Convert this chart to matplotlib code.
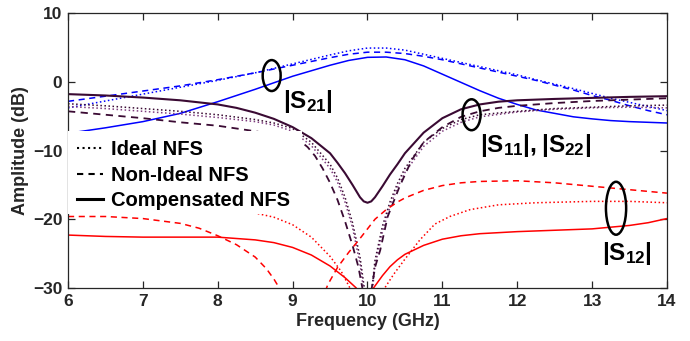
import matplotlib
matplotlib.use("Agg")
import matplotlib.pyplot as plt
from matplotlib.lines import Line2D
from matplotlib.patches import Ellipse, Rectangle

plt.rcParams['font.family'] = ['Liberation Sans', 'DejaVu Sans']
plt.rcParams['font.weight'] = 'bold'
plt.rcParams['mathtext.fontset'] = 'custom'
plt.rcParams['mathtext.rm'] = 'Liberation Sans:bold'
plt.rcParams['mathtext.bf'] = 'Liberation Sans:bold'

# |S21| transmission
f_s21 = [6.0, 6.5, 7.0, 7.5, 8.0, 8.5, 9.0, 9.5, 9.75, 10.0, 10.25, 10.5, 10.75,
         11.0, 11.25, 11.5, 11.75, 12.0, 12.25, 12.5, 12.75, 13.0, 13.25, 13.5, 13.75, 14.0]
s21_ideal = [-3.8, -2.8, -1.8, -0.8, 0.2, 1.3, 2.6, 3.9, 4.5, 4.9, 4.9, 4.6, 4.0,
             3.4, 2.8, 2.2, 1.6, 1.0, 0.3, -0.35, -1.0, -1.7, -2.4, -3.0, -3.6, -4.2]
s21_nonideal = [-2.85, -2.1, -1.35, -0.6, 0.3, 1.3, 2.4, 3.5, 4.0, 4.3, 4.3, 4.1, 3.7,
                3.2, 2.6, 2.0, 1.4, 0.8, 0.2, -0.5, -1.2, -2.0, -2.7, -3.5, -4.2, -4.8]
s21_comp = [-7.5, -6.7, -5.8, -4.6, -2.9, -1.1, 0.8, 2.4, 3.1, 3.55, 3.6, 3.2, 2.3,
            1.1, -0.1, -1.3, -2.4, -3.3, -4.1, -4.6, -5.1, -5.4, -5.65, -5.8, -5.9, -6.0]

# |S11|, |S22| reflection
f_s11_comp = [6.0, 6.5, 7.0, 7.5, 8.0, 8.25, 8.5, 8.75, 9.0, 9.25, 9.5, 9.6, 9.7, 9.8,
              9.9, 9.95, 10.0, 10.05, 10.1, 10.2, 10.3, 10.4, 10.5, 10.75, 11.0,
              11.25, 11.5, 11.75, 12.0, 12.5, 13.0, 13.5, 14.0]
s11_comp = [-1.8, -2.0, -2.3, -2.7, -3.3, -3.8, -4.5, -5.4, -6.6, -8.2, -10.4, -11.8, -13.3,
            -15.0, -16.8, -17.4, -17.6, -17.4, -16.8, -15.2, -13.5, -12.0, -10.4, -7.4,
            -5.3, -4.0, -3.3, -2.9, -2.7, -2.5, -2.35, -2.2, -2.1]

f_s11_nonideal = [6.0, 6.5, 7.0, 7.5, 8.0, 8.5, 8.75, 9.0, 9.1, 9.2, 9.3, 9.4, 9.5, 9.6,
                  9.7, 9.8, 9.88, 9.94, 10.0, 10.05, 10.1, 10.17, 10.27, 10.43, 10.59,
                  10.75, 11.0, 11.25, 11.5, 11.75, 12.0, 12.5, 13.0, 13.5, 14.0]
s11_nonideal = [-4.3, -4.8, -5.3, -5.9, -6.4, -7.2, -7.7, -8.2, -8.6, -9.5, -10.8, -12.6,
                -14.7, -17.2, -20.3, -23.8, -27.0, -30.5, -38.0, -30.5, -27.0, -24.5,
                -19.6, -15.2, -11.4, -8.8, -6.6, -5.1, -4.3, -3.8, -3.5, -3.1, -2.8,
                -2.6, -2.4]

f_ideal_refl = [6.0, 6.5, 7.0, 7.5, 8.0, 8.5, 8.75, 9.0, 9.25, 9.5, 9.6, 9.7, 9.8, 9.9,
                9.97, 10.01, 10.05, 10.1, 10.2, 10.3, 10.4, 10.5, 10.75, 11.0, 11.25,
                11.5, 12.0, 12.5, 13.0, 13.5, 14.0]
s11_ideal = [-3.2, -3.5, -3.9, -4.3, -4.8, -5.5, -6.0, -6.8, -8.8, -12.0, -14.0, -16.8,
             -20.5, -25.5, -31.0, -45.0, -31.0, -26.0, -21.0, -17.5, -14.8, -12.6, -8.8,
             -6.8, -5.5, -4.8, -4.3, -3.9, -3.7, -3.5, -3.4]
s22_ideal = [-3.6, -3.9, -4.3, -4.7, -5.2, -5.8, -6.3, -7.2, -9.3, -12.6, -14.6, -17.5,
             -21.2, -26.5, -32.0, -45.0, -32.0, -26.8, -21.8, -18.2, -15.4, -13.2, -9.4,
             -7.2, -5.9, -5.1, -4.4, -4.0, -3.8, -3.7, -3.8]

# |S12| isolation
f_s12_comp = [6.0, 6.5, 7.0, 7.5, 8.0, 8.5, 8.75, 9.0, 9.25, 9.5, 9.7, 9.85, 9.95, 10.08,
              10.2, 10.3, 10.4, 10.5, 10.75, 11.0, 11.25, 11.5, 12.0, 12.5, 13.0, 13.5,
              13.75, 14.0]
s12_comp = [-22.3, -22.5, -22.6, -22.6, -22.6, -23.0, -23.4, -24.1, -25.2, -26.8, -28.5,
            -30.0, -32.0, -30.0, -28.2, -26.9, -25.9, -25.1, -23.8, -22.9, -22.4, -22.1,
            -21.8, -21.6, -21.4, -20.9, -20.5, -19.9]

f_s12_nonideal = [6.0, 6.5, 7.0, 7.5, 7.75, 8.0, 8.25, 8.5, 8.65, 8.75, 8.85, 9.0, 9.2,
                  9.35, 9.47, 9.6, 9.75, 9.9, 10.0, 10.1, 10.25, 10.4, 10.5, 10.75, 11.0,
                  11.25, 11.5, 12.0, 12.5, 13.0, 13.5, 14.0]
s12_nonideal = [-19.6, -19.6, -19.9, -20.6, -21.3, -22.4, -23.7, -25.5, -27.2, -28.7,
                -30.5, -35.0, -38.0, -33.0, -29.5, -27.0, -24.8, -22.8, -21.4, -20.0,
                -18.6, -17.5, -16.9, -15.8, -15.1, -14.7, -14.5, -14.4, -14.7, -15.2,
                -15.7, -16.2]

f_s12_ideal = [6.0, 6.5, 7.0, 7.5, 8.0, 8.5, 8.75, 9.0, 9.25, 9.5, 9.65, 9.78, 9.9, 10.0,
               10.1, 10.23, 10.35, 10.5, 10.7, 10.9, 11.1, 11.37, 11.75, 12.25, 13.0,
               13.5, 14.0]
s12_ideal = [-17.5, -17.6, -17.8, -18.1, -18.5, -19.1, -19.7, -20.8, -22.6, -25.4, -27.6,
             -30.3, -34.0, -40.0, -35.0, -30.0, -28.0, -25.8, -23.0, -20.7, -19.6, -18.6,
             -17.9, -17.6, -17.4, -17.4, -17.6]

freq_ticks = [6, 7, 8, 9, 10, 11, 12, 13, 14]
amp_ticks = [-30, -20, -10, 0, 10]
legend_labels = ['Ideal NFS', 'Non-Ideal NFS', 'Compensated NFS']

blue = '#0000ff'
red = '#ff0000'
dark = '#3a0a33'
purple = '#7e3c7e'
ink = '#262626'

fig = plt.figure(figsize=(6.9, 3.41), dpi=100)
ax = fig.add_axes([0.0986, 0.1554, 0.868, 0.8065])

ax.plot(f_s21, s21_ideal, ':', color=blue, lw=1.1)
ax.plot(f_s21, s21_nonideal, '--', color=blue, lw=1.1, dashes=(4, 3))
ax.plot(f_s21, s21_comp, '-', color=blue, lw=1.1)

ax.plot(f_ideal_refl, s22_ideal, ':', color=purple, lw=1.1)
ax.plot(f_ideal_refl, s11_ideal, ':', color=dark, lw=1.1)
ax.plot(f_s11_nonideal, s11_nonideal, '--', color=dark, lw=1.3, dashes=(4, 3))
ax.plot(f_s11_comp, s11_comp, '-', color=dark, lw=1.5)

ax.plot(f_s12_ideal, s12_ideal, ':', color=red, lw=1.1)
ax.plot(f_s12_nonideal, s12_nonideal, '--', color=red, lw=1.1, dashes=(4, 3))
ax.plot(f_s12_comp, s12_comp, '-', color=red, lw=1.1)

ax.set_xlim(6, 14)
ax.set_ylim(-30, 10)
ax.set_xticks(freq_ticks)
ax.set_yticks(amp_ticks)
ax.tick_params(direction='in', top=True, right=True, length=5, width=0.9,
               labelsize=12.5, colors=ink, pad=4)
for lab in ax.get_xticklabels() + ax.get_yticklabels():
    lab.set_fontweight('bold')
for sp in ax.spines.values():
    sp.set_color(ink)
    sp.set_linewidth(0.9)
ax.set_xlabel('Frequency (GHz)', fontsize=13, fontweight='bold', color=ink, labelpad=3)
ax.set_ylabel('Amplitude (dB)', fontsize=13, fontweight='bold', color=ink, labelpad=3)

# white box behind the legend hides the curves underneath
ax.add_patch(Rectangle((0, 0.27), 0.39, 0.30, transform=ax.transAxes,
                       facecolor='white', edgecolor='none', zorder=3))
handles = [Line2D([], [], color='black', ls=':', lw=1.5),
           Line2D([], [], color='black', ls='--', lw=1.5, dashes=(3, 2.5)),
           Line2D([], [], color='black', ls='-', lw=2.2)]
leg = ax.legend(handles, legend_labels, loc='upper left', bbox_to_anchor=(0.012, 0.545),
                frameon=False, borderaxespad=0, borderpad=0.1, handlelength=1.3,
                handletextpad=0.4, labelspacing=0.32,
                prop={'family': 'Liberation Sans', 'weight': 'bold', 'size': 14.5})
leg.set_zorder(4)

# ellipses grouping each family of curves
for cx, cy, w, h in [(8.72, 0.9, 0.24, 4.5), (11.39, -4.8, 0.24, 4.5),
                     (13.32, -18.4, 0.27, 7.7)]:
    ax.add_patch(Ellipse((cx, cy), w, h, fill=False, edgecolor='black', lw=1.8, zorder=5))

ax.text(8.87, -3.8, r'$\mathbf{|S_{21}|}$', fontsize=17.5, va='baseline', ha='left', zorder=5)
ax.text(11.50, -10.2, r'$\mathbf{|S_{11}|,\!\,|S_{22}|}$', fontsize=17.5, va='baseline',
        ha='left', zorder=5)
ax.text(13.13, -25.9, r'$\mathbf{|S_{12}|}$', fontsize=17.5, va='baseline', ha='left', zorder=5)

fig.savefig('out.png', dpi=100)
